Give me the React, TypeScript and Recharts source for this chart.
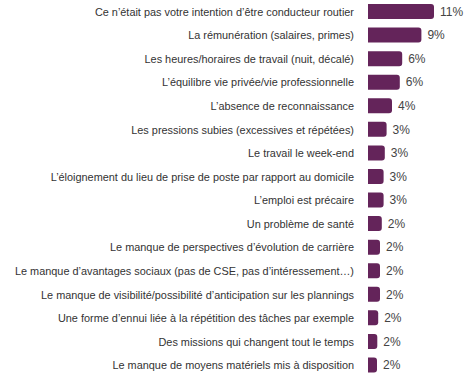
import React from "react";
import { BarChart, Bar, XAxis, YAxis, LabelList } from "recharts";

const categories = [
  "Ce n’était pas votre intention d’être conducteur routier",
  "La rémunération (salaires, primes)",
  "Les heures/horaires de travail (nuit, décalé)",
  "L’équilibre vie privée/vie professionnelle",
  "L’absence de reconnaissance",
  "Les pressions subies (excessives et répétées)",
  "Le travail le week-end",
  "L’éloignement du lieu de prise de poste par rapport au domicile",
  "L’emploi est précaire",
  "Un problème de santé",
  "Le manque de perspectives d’évolution de carrière",
  "Le manque d’avantages sociaux (pas de CSE, pas d’intéressement…)",
  "Le manque de visibilité/possibilité d’anticipation sur les plannings",
  "Une forme d’ennui liée à la répétition des tâches par exemple",
  "Des missions qui changent tout le temps",
  "Le manque de moyens matériels mis à disposition",
];

const values = [11.0, 8.9, 5.7, 5.3, 4.0, 3.1, 2.8, 2.6, 2.6, 2.3, 2.0, 2.0, 2.0, 1.7, 1.55, 1.5];

const valueLabels = ["11%", "9%", "6%", "6%", "4%", "3%", "3%", "3%", "3%", "2%", "2%", "2%", "2%", "2%", "2%", "2%"];

const data = categories.map((name, i) => ({ name, value: values[i], label: valueLabels[i] }));

const FONT = "'Liberation Sans', Arial, sans-serif";

const CategoryTick = (props: any) => {
  const { y, payload } = props;
  return (
    <text
      x={354}
      y={y}
      dy={4}
      textAnchor="end"
      fontSize={10.9}
      fill="#333333"
      fontFamily={FONT}
    >
      {payload.value}
    </text>
  );
};

export default function App() {
  return (
    <div style={{ position: "absolute", left: 0, top: 0 }}>
      <BarChart
        width={474}
        height={377}
        data={data}
        layout="vertical"
        margin={{ top: 0, right: 40, bottom: 0, left: 0 }}
      >
        <XAxis type="number" hide domain={[0, 11]} />
        <YAxis
          type="category"
          dataKey="name"
          width={368}
          axisLine={false}
          tickLine={false}
          interval={0}
          tick={<CategoryTick />}
        />
        <Bar dataKey="value" fill="#64245a" barSize={15} radius={[0, 3, 3, 0]} isAnimationActive={false}>
          <LabelList
            dataKey="label"
            position="right"
            offset={6}
            style={{ fontSize: 12, fill: "#444444", fontFamily: FONT }}
          />
        </Bar>
      </BarChart>
    </div>
  );
}
